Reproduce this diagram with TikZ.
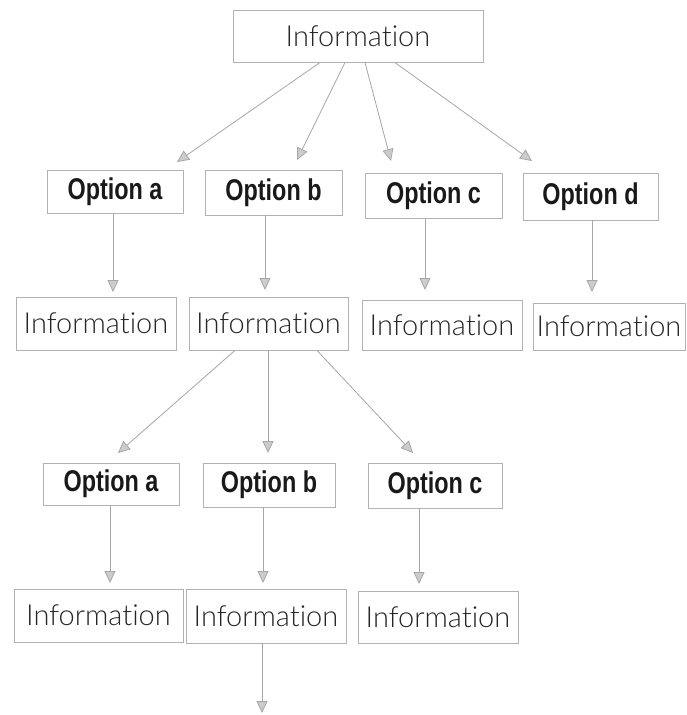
\documentclass[tikz,border=0pt]{standalone}
\usepackage{fontspec}
\setmainfont{Liberation Sans}
\newfontfamily\infofont{Lato}[UprightFont={* Light},Ligatures={NoCommon}]
\newfontfamily\optfont[FakeStretch=0.78]{Liberation Sans Bold}
\usetikzlibrary{arrows.meta}

\tikzset{
  box/.style={draw=gray!60, line width=0.8pt, inner sep=0pt, anchor=center},
  info/.style={box, font=\infofont\fontsize{29}{31}\selectfont, text=black!85},
  opt/.style={box, font=\optfont\fontsize{30}{32}\selectfont, text=black!90},
  link/.style={draw=gray!70, line width=0.8pt,
    -{Triangle[length=12pt,width=11pt,fill=gray!40]}},
}

\begin{document}
\begin{tikzpicture}[x=1pt,y=-1pt]
  \useasboundingbox (0,0) rectangle (687,715);

  % root
  \node[info, minimum width=250pt, minimum height=52pt] (top) at (358,36) {Information};

  % first level of options
  \node[opt, minimum width=136pt, minimum height=43pt] (oa) at (115,192) {Option a};
  \node[opt, minimum width=137pt, minimum height=45pt] (ob) at (273.5,192.5) {Option b};
  \node[opt, minimum width=137pt, minimum height=45pt] (oc) at (433.5,195.5) {Option c};
  \node[opt, minimum width=135pt, minimum height=47pt] (od) at (590.5,196.5) {Option d};

  % first level of information
  \node[info, minimum width=160pt, minimum height=53pt] (ia) at (96,323.5) {Information};
  \node[info, minimum width=159pt, minimum height=53pt] (ib) at (268.5,323.5) {Information};
  \node[info, minimum width=160pt, minimum height=50pt] (ic) at (442,325) {Information};
  \node[info, minimum width=152pt, minimum height=47pt] (id) at (609,326.5) {Information};

  % second level of options
  \node[opt, minimum width=136pt, minimum height=42pt] (pa) at (111,484) {Option a};
  \node[opt, minimum width=132pt, minimum height=44pt] (pb) at (269,485) {Option b};
  \node[opt, minimum width=134pt, minimum height=45pt] (pc) at (435,485.5) {Option c};

  % second level of information
  \node[info, minimum width=169pt, minimum height=53pt] (ja) at (98.5,615.5) {Information};
  \node[info, minimum width=160pt, minimum height=54pt] (jb) at (266,616) {Information};
  \node[info, minimum width=160pt, minimum height=52pt] (jc) at (438,617) {Information};

  % arrow ends above the option boxes
  \coordinate (ta) at (177,162);
  \coordinate (tb) at (297,160);
  \coordinate (tc) at (391,161);
  \coordinate (td) at (532,161);
  \coordinate (ua) at (118,453);
  \coordinate (ub) at (268,453);
  \coordinate (uc) at (413,453);
  \coordinate (tail) at (262,713);

  % root to options
  \draw[link] (top) -- (ta);
  \draw[link] (top) -- (tb);
  \draw[link] (top) -- (tc);
  \draw[link] (top) -- (td);

  % options to information
  \draw[link] (oa.south -| 113,0) -- (113,292);
  \draw[link] (ob.south -| 265,0) -- (265,290);
  \draw[link] (oc.south -| 425,0) -- (425,290);
  \draw[link] (od.south -| 592,0) -- (592,292);

  % second branching
  \draw[link] (ib.south -| 235,0) -- (ua);
  \draw[link] (ib.south -| 268,0) -- (ub);
  \draw[link] (ib.south -| 317,0) -- (uc);

  \draw[link] (pa.south -| 110,0) -- (110,583);
  \draw[link] (pb.south -| 263,0) -- (263,583);
  \draw[link] (pc.south -| 419,0) -- (419,584);

  % continuation below
  \draw[link] (jb.south -| 262,0) -- (tail);
\end{tikzpicture}
\end{document}
